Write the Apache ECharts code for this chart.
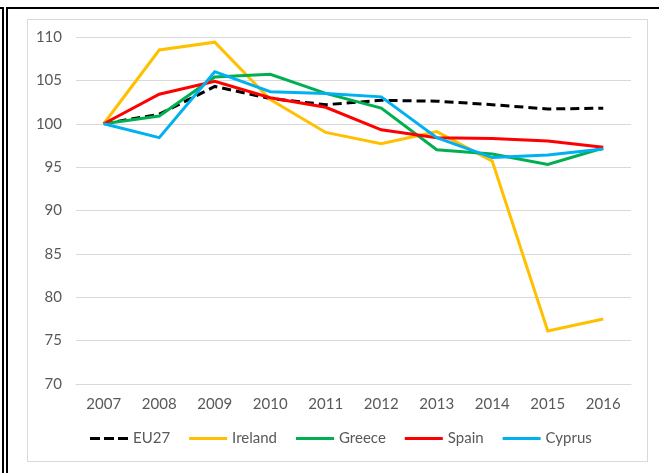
<!DOCTYPE html>
<html>
<head>
<meta charset="utf-8">
<script src="https://cdn.jsdelivr.net/npm/echarts@6/dist/echarts.min.js"></script>
<style>
  html, body { margin: 0; padding: 0; background: #fff; }
  #wrap { position: relative; width: 659px; height: 473px; overflow: hidden; }
  .rule { position: absolute; background: #000; }
  #box { position: absolute; left: 27px; top: 19px; width: 619px; height: 441px; border: 1px solid #d9d9d9; }
  #chart { position: absolute; left: 0; top: 0; width: 659px; height: 473px; }
</style>
</head>
<body>
<div id="wrap">
  <div class="rule" style="left:0;top:7px;width:4px;height:2px"></div>
  <div class="rule" style="left:2px;top:7px;width:2px;height:466px"></div>
  <div class="rule" style="left:6px;top:7px;width:2px;height:466px"></div>
  <div class="rule" style="left:6px;top:7px;width:653px;height:2px"></div>
  <div id="box"></div>
  <div id="chart"></div>
</div>
<script>
const years = ['2007', '2008', '2009', '2010', '2011', '2012', '2013', '2014', '2015', '2016']
const eu27 = [100, 101.1, 104.3, 102.9, 102.2, 102.7, 102.6, 102.2, 101.7, 101.8]
const ireland = [100, 108.5, 109.4, 102.8, 99.0, 97.7, 99.1, 95.7, 76.1, 77.5]
const greece = [100, 100.9, 105.4, 105.7, 103.5, 101.8, 97.0, 96.5, 95.3, 97.2]
const spain = [100, 103.4, 104.9, 103.0, 101.9, 99.3, 98.4, 98.3, 98.0, 97.3]
const cyprus = [100, 98.4, 106.0, 103.7, 103.5, 103.1, 98.4, 96.1, 96.4, 97.1]

const font = 'Lato, "Open Sans", sans-serif'
const textColor = '#595959'
const gridColor = '#d9d9d9'
// three short dashes for the EU27 legend key
const dashIcon = 'path://M0,0h10v3h-10zM14,0h10v3h-10zM28,0h10v3h-10z'

function lineSeries(name, data, color, type = 'solid') {
  return {
    name,
    type: 'line',
    data,
    symbol: 'none',
    silent: true,
    lineStyle: { color, width: 3, type, cap: 'butt', join: 'miter' },
    itemStyle: { color },
  }
}

const chart = echarts.init(document.getElementById('chart'), null, { renderer: 'canvas' })
chart.setOption({
  animation: false,
  textStyle: { fontFamily: font },
  grid: { left: 76, right: 28, top: 37, bottom: 89 },
  legend: {
    left: 85,
    top: 426,
    itemWidth: 38,
    itemHeight: 3,
    itemGap: 19,
    symbolKeepAspect: false,
    textStyle: { color: textColor, fontSize: 15, fontFamily: font },
    data: [
      { name: 'EU27', icon: dashIcon },
      { name: 'Ireland', icon: 'rect' },
      { name: 'Greece', icon: 'rect' },
      { name: 'Spain', icon: 'rect' },
      { name: 'Cyprus', icon: 'rect' },
    ],
  },
  xAxis: {
    type: 'category',
    data: years,
    boundaryGap: true,
    axisLine: { lineStyle: { color: gridColor, width: 1 } },
    axisTick: { show: false },
    axisLabel: { color: textColor, fontSize: 15, margin: 13, fontFamily: font },
  },
  yAxis: {
    type: 'value',
    min: 70,
    max: 110,
    interval: 5,
    axisLine: { show: false },
    axisTick: { show: false },
    axisLabel: { color: textColor, fontSize: 15, margin: 14, fontFamily: font },
    splitLine: { lineStyle: { color: gridColor, width: 1 } },
  },
  series: [
    lineSeries('EU27', eu27, '#000000', [9, 5]),
    lineSeries('Ireland', ireland, '#ffc000'),
    lineSeries('Greece', greece, '#00b050'),
    lineSeries('Spain', spain, '#ff0000'),
    lineSeries('Cyprus', cyprus, '#00b0f0'),
  ],
})
</script>
</body>
</html>
